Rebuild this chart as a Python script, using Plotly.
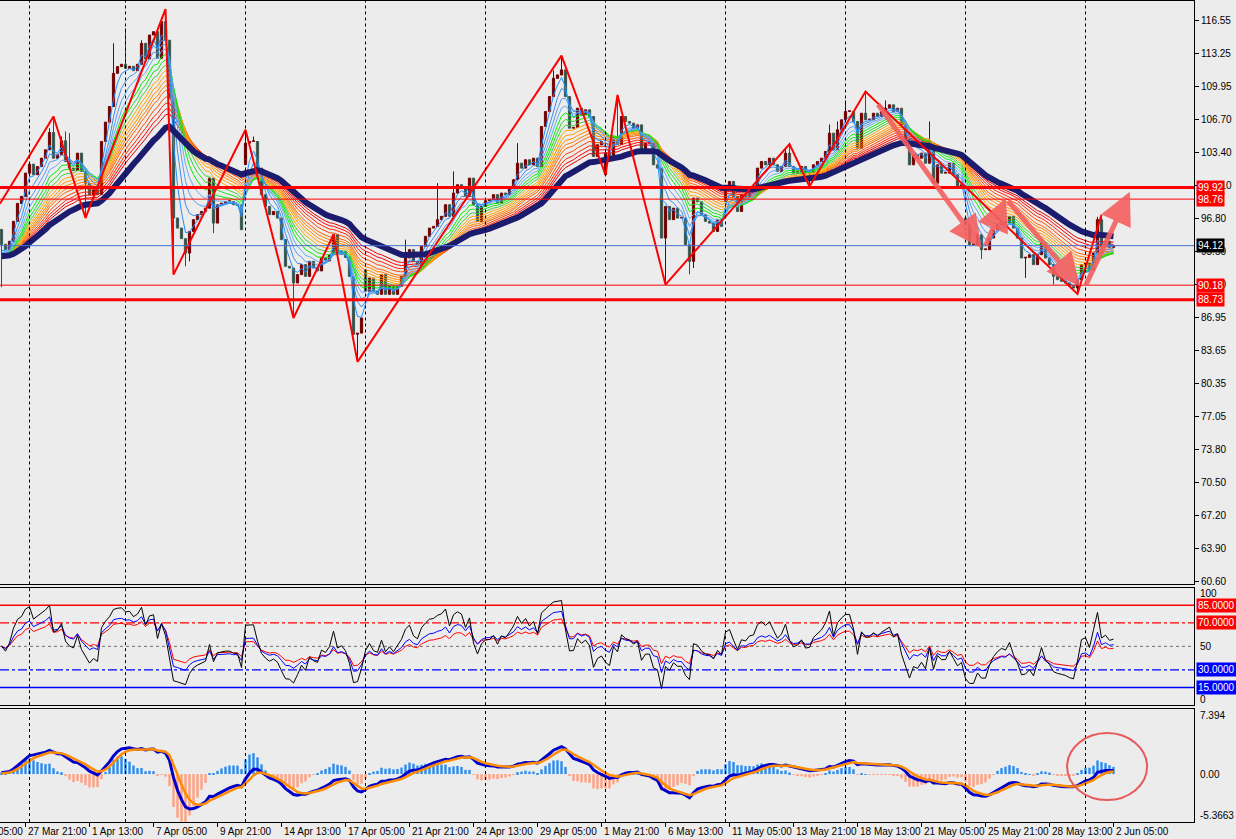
import numpy as np
import pandas as pd
import plotly.graph_objects as go

# ---------------- data (H4 bars) ----------------
close_prices = [
    94.25, 93.72, 94.55, 96.54, 98.33, 99.03, 101.35, 102.24, 101.19, 102.00,
    102.84, 103.67, 105.40, 102.84, 103.18, 104.57, 102.51, 101.85, 101.60, 103.34,
    101.52, 100.35, 99.20, 99.69, 99.23, 104.50, 106.43, 107.99, 111.30, 111.97,
    112.20, 111.80, 112.00, 111.57, 112.20, 114.29, 112.73, 115.12, 115.45, 112.80,
    116.45, 114.60, 108.80, 96.87, 95.87, 94.82, 93.38, 95.54, 96.71, 97.21,
    97.53, 97.86, 100.85, 96.37, 98.20, 98.36, 98.53, 98.53, 98.20, 98.13,
    95.71, 104.34, 104.50, 104.50, 101.85, 99.20, 98.03, 97.21, 97.53, 96.87,
    94.72, 92.06, 91.89, 90.40, 91.23, 92.23, 91.06, 92.56, 91.90, 91.60,
    92.89, 92.60, 93.20, 95.20, 93.25, 93.55, 92.95, 91.06, 85.29, 85.40,
    86.91, 89.57, 90.89, 89.57, 89.27, 91.23, 89.27, 90.07, 89.27, 90.07,
    91.06, 92.89, 93.72, 92.56, 92.23, 94.05, 95.05, 95.87, 96.04, 96.71,
    97.04, 98.20, 97.04, 99.36, 100.19, 100.02, 99.03, 100.85, 98.20, 96.54,
    98.03, 98.60, 98.70, 99.20, 98.36, 99.36, 99.20, 99.86, 100.69, 102.34,
    101.85, 102.68, 102.18, 102.84, 102.01, 106.00, 107.49, 108.98, 110.80, 111.14,
    111.64, 108.98, 105.83, 105.90, 107.82, 107.16, 107.66, 106.99, 103.01, 104.17,
    104.50, 103.34, 102.68, 105.00, 104.20, 106.99, 106.50, 106.33, 105.83, 106.16,
    103.67, 104.34, 104.34, 102.18, 101.85, 94.88, 98.03, 96.71, 97.86, 96.87,
    96.87, 94.22, 92.56, 98.86, 98.50, 97.21, 96.54, 96.37, 95.54, 96.71,
    96.04, 99.86, 100.52, 99.03, 97.53, 99.20, 99.03, 99.86, 100.02, 101.85,
    102.51, 102.18, 102.84, 102.18, 101.52, 102.01, 103.34, 102.01, 101.35, 101.52,
    102.01, 101.35, 101.40, 102.18, 102.51, 102.84, 103.51, 105.33, 103.67, 105.67,
    106.66, 107.49, 107.49, 106.50, 103.84, 107.32, 106.66, 106.66, 107.32, 106.99,
    107.49, 107.82, 108.16, 107.49, 107.82, 106.16, 104.50, 102.18, 103.18, 102.84,
    103.34, 102.34, 104.34, 100.35, 102.18, 101.35, 101.35, 102.34, 101.19, 99.86,
    100.19, 96.21, 94.22, 94.22, 95.21, 93.72, 93.72, 94.88, 95.71, 96.21,
    96.54, 96.37, 97.04, 95.87, 94.88, 92.89, 92.95, 93.22, 92.23, 93.22,
    94.38, 92.89, 92.23, 91.06, 90.73, 90.57, 90.40, 90.07, 89.90, 90.73,
    92.23, 92.39, 91.73, 93.38, 96.71, 94.05, 94.55, 93.95, 94.12,
]
first_open = 95.74
open_gaps = {61: 102.20, 91: 91.73, 151: 101.20, 181: 98.53, 241: 96.87}
high_marks = {12: 105.83, 13: 106.99, 15: 105.00, 16: 105.50, 17: 105.33, 28: 114.30,
              31: 115.80, 35: 114.60, 40: 116.90, 41: 117.71, 61: 105.67, 63: 105.00,
              83: 95.21, 101: 94.72, 109: 100.35, 113: 101.52, 129: 104.34, 138: 111.60,
              140: 113.06, 154: 109.15, 196: 103.80, 197: 104.24, 207: 106.20, 209: 106.50,
              211: 108.60, 216: 109.48, 221: 108.60, 232: 106.50, 274: 97.00, 275: 97.20}
low_marks = {0: 89.97, 21: 96.87, 43: 91.23, 46: 92.06, 47: 92.56, 53: 95.37, 73: 86.91,
             88: 85.20, 89: 82.53, 151: 101.19, 166: 90.24, 172: 91.26, 173: 91.89,
             202: 100.02, 245: 92.79, 256: 90.90, 263: 90.24, 269: 89.30}

# zigzag pivots (bar index, price)
zz_bars = [-0.4, 13, 21, 41, 43, 61, 73, 83, 89, 140, 151, 154, 166, 197, 202, 216, 269, 275]
zz_prices = [98.30, 106.99, 96.87, 117.71, 91.23, 105.67, 86.91, 95.21, 82.53, 113.06,
             101.19, 109.15, 90.24, 104.24, 100.02, 109.48, 89.30, 97.20]

# manual arrows (tail bar, tail price, head bar, head price)
arrow_tail_bars = [218.9, 245.9, 251.3, 270.9]
arrow_tail_prices = [108.34, 94.02, 98.74, 90.03]
arrow_head_bars = [245.0, 251.1, 269.6, 282.1]
arrow_head_prices = [93.86, 98.84, 90.10, 99.50]

# horizontal levels
level_prices = [99.92, 98.76, 90.18, 88.73]
level_widths = [3, 1, 1, 3]
current_price = 94.12

# axis ticks
price_ticks = [116.55, 113.25, 109.95, 106.70, 103.40, 100.10, 96.80, 93.50, 90.20,
               86.95, 83.65, 80.35, 77.05, 73.80, 70.50, 67.20, 63.90, 60.60]
date_label_bars = [6, 22, 38, 54, 70, 86, 102, 118, 134, 150, 166, 182, 198, 214, 230, 246, 262, 278]
date_labels = ["27 Mar 21:00", "1 Apr 13:00", "7 Apr 05:00", "9 Apr 21:00", "14 Apr 13:00",
               "17 Apr 05:00", "21 Apr 21:00", "24 Apr 13:00", "29 Apr 05:00", "1 May 21:00",
               "6 May 13:00", "11 May 05:00", "13 May 21:00", "18 May 13:00", "21 May 05:00",
               "25 May 21:00", "28 May 13:00", "2 Jun 05:00"]
week_start_bars = [7, 31, 61, 91, 121, 151, 181, 211, 241, 271]

# indicator settings
ma_seed = 93.0
ribbon_periods = [3, 5, 7, 9, 11, 13, 15, 17, 19, 21, 23, 25, 28, 31, 34, 37]
ribbon_colors = ["#1e90ff", "#3a8ee8", "#5a9cf0", "#6aaaf0",
                 "#00ee00", "#22dd22", "#44cc44",
                 "#ffa500", "#ff9c00", "#ff8c00", "#ff7f00",
                 "#ff6000", "#ff4500", "#ff2200", "#ff0000", "#e00000"]
navy_period = 45
rsi_periods = [7, 14, 21]
rsi_colors = ["#000000", "#0000ff", "#ff0000"]
macd_fast, macd_slow, macd_signal, osma_period, osma_gain = 8, 17, 4, 9, 1.7

# ---------------- derived series ----------------
N = len(close_prices)
bars = list(range(N))
opens = [first_open] + close_prices[:-1]
for b, v in open_gaps.items():
    opens[b] = v
highs = [max(o, c) for o, c in zip(opens, close_prices)]
lows = [min(o, c) for o, c in zip(opens, close_prices)]
for b, v in high_marks.items():
    highs[b] = max(highs[b], v)
for b, v in low_marks.items():
    lows[b] = min(lows[b], v)


def ema(values, period, seed):
    a = 2.0 / (period + 1)
    out, prev = [], seed
    for v in values:
        prev = prev + a * (v - prev)
        out.append(prev)
    return out


def rsi(values, period):
    ag, al = 0.5, 0.5
    out = [50.0]
    for i in range(1, len(values)):
        d = values[i] - values[i - 1]
        ag = (ag * (period - 1) + max(d, 0)) / period
        al = (al * (period - 1) + max(-d, 0)) / period
        out.append(100 - 100 / (1 + ag / al) if al > 0 else 100)
    return out


fast = ema(close_prices, macd_fast, ma_seed)
slow = ema(close_prices, macd_slow, ma_seed)
macd = [f - s for f, s in zip(fast, slow)]
signal = ema(macd, macd_signal, 0.0)
osma = ema(macd, osma_period, 0.0)
hist = [osma_gain * (m - o) for m, o in zip(macd, osma)]

BG = "#ececec"
fig = go.Figure()

# candles: wicks
bull = [c >= o for o, c in zip(opens, close_prices)]
for is_bull, col in [(True, "#7a0000"), (False, "#34504a")]:
    wx, wy = [], []
    for i in bars:
        if bull[i] == is_bull:
            wx += [i, i, None]
            wy += [lows[i], highs[i], None]
    fig.add_trace(go.Scatter(x=wx, y=wy, mode="lines", line=dict(color=col, width=1),
                             xaxis="x", yaxis="y", hoverinfo="skip"))
# candles: bodies
fig.add_trace(go.Bar(
    x=bars,
    base=[min(o, c) for o, c in zip(opens, close_prices)],
    y=[max(abs(c - o), 0.08) for o, c in zip(opens, close_prices)],
    width=0.55,
    marker=dict(color=["#b40000" if b else "#c4ecce" for b in bull],
                line=dict(color=["#6e0000" if b else "#34504a" for b in bull], width=1)),
    xaxis="x", yaxis="y", hoverinfo="skip"))

# ribbon MAs (slow first so fast ones lie on top)
for p, col in reversed(list(zip(ribbon_periods, ribbon_colors))):
    fig.add_trace(go.Scatter(x=bars, y=ema(close_prices, p, ma_seed), mode="lines",
                             line=dict(color=col, width=1), xaxis="x", yaxis="y", hoverinfo="skip"))
fig.add_trace(go.Scatter(x=bars, y=ema(close_prices, navy_period, ma_seed), mode="lines",
                         line=dict(color="#1c1c6e", width=6), xaxis="x", yaxis="y", hoverinfo="skip"))
# zigzag
fig.add_trace(go.Scatter(x=zz_bars, y=zz_prices, mode="lines", line=dict(color="#ff0000", width=2),
                         xaxis="x", yaxis="y", hoverinfo="skip"))

# RSI panel
for p, col in reversed(list(zip(rsi_periods, rsi_colors))):
    fig.add_trace(go.Scatter(x=bars, y=rsi(close_prices, p), mode="lines",
                             line=dict(color=col, width=1), xaxis="x2", yaxis="y2", hoverinfo="skip"))

# MACD panel
fig.add_trace(go.Bar(x=bars, y=hist, width=0.6,
                     marker=dict(color=["#2b8cf0" if h >= 0 else "#ffa080" for h in hist], line=dict(width=0)),
                     xaxis="x3", yaxis="y3", hoverinfo="skip"))
fig.add_trace(go.Scatter(x=bars, y=macd, mode="lines", line=dict(color="#0000cc", width=3),
                         xaxis="x3", yaxis="y3", hoverinfo="skip"))
fig.add_trace(go.Scatter(x=bars, y=signal, mode="lines", line=dict(color="#ff8c00", width=2.5),
                         xaxis="x3", yaxis="y3", hoverinfo="skip"))

shapes = []
# weekly dashed grid
for b in week_start_bars:
    for xa, ya in [("x", "y domain"), ("x2", "y2 domain"), ("x3", "y3 domain")]:
        shapes.append(dict(type="line", xref=xa, yref=ya, x0=b, x1=b, y0=0, y1=1,
                           line=dict(color="#000000", width=1, dash="3px,3px"), layer="above"))
# horizontal price levels
for p, w in zip(level_prices, level_widths):
    shapes.append(dict(type="line", xref="x domain", yref="y", x0=0, x1=1, y0=p, y1=p,
                       line=dict(color="#ff0000", width=w)))
shapes.append(dict(type="line", xref="x domain", yref="y", x0=0, x1=1, y0=current_price, y1=current_price,
                   line=dict(color="#4a6fd0", width=1)))
# RSI levels
for lv, col, dash, w in [(85, "#ff0000", "solid", 1.5), (70, "#ff0000", "dashdot", 1.2),
                          (50, "#707070", "dot", 1), (30, "#0000ff", "dashdot", 1.2),
                          (15, "#0000ff", "solid", 1.5)]:
    shapes.append(dict(type="line", xref="x2 domain", yref="y2", x0=0, x1=1, y0=lv, y1=lv,
                       line=dict(color=col, width=w, dash=dash), layer="below"))
# highlight circle
shapes.append(dict(type="circle", xref="x3", yref="y3", x0=266.4, x1=286.4, y0=-2.96, y1=4.66,
                   line=dict(color="#e85a5a", width=2)))
# x tick marks
for b in date_label_bars:
    shapes.append(dict(type="line", xref="x", yref="paper", x0=b, x1=b, y0=0, y1=-0.006,
                       line=dict(color="#000000", width=1)))

FONT = "Liberation Sans"
ann = []
for b, t in zip(date_label_bars, date_labels):
    ann.append(dict(x=b, xref="x", y=0, yref="paper", yshift=-2, text=t, showarrow=False,
                    xanchor="left", yanchor="top", xshift=0, font=dict(size=10, color="#000", family=FONT)))
ann.append(dict(x=-38.5 / 1194, xref="paper", y=0, yref="paper", yshift=-2, text="25 Mar 05:00",
                showarrow=False, xanchor="left", yanchor="top", font=dict(size=10, color="#000", family=FONT)))
for p in level_prices:
    ann.append(dict(x=1, xref="paper", y=p, yref="y", text=f"{p:.2f}", showarrow=False, xanchor="left",
                    xshift=2, bgcolor="#ff0000", borderpad=1, font=dict(size=10, color="#ffffff", family=FONT)))
ann.append(dict(x=1, xref="paper", y=current_price, yref="y", text=f"{current_price:.2f}", showarrow=False,
                xanchor="left", xshift=2, bgcolor="#000000", borderpad=1,
                font=dict(size=10, color="#ffffff", family=FONT)))
for lv, col in [(85, "#ff0000"), (70, "#ff0000"), (30, "#0000ff"), (15, "#0000ff")]:
    ann.append(dict(x=1, xref="paper", y=lv, yref="y2", text=f"{lv:.4f}", showarrow=False, xanchor="left",
                    xshift=2, bgcolor=col, borderpad=1, font=dict(size=10, color="#ffffff", family=FONT)))
for v, t, sh in [(100, "100", -6), (50, "50", 0), (0, "0", 6)]:
    ann.append(dict(x=1, xref="paper", y=v, yref="y2", yshift=sh, text=t, showarrow=False, xanchor="left",
                    xshift=4, font=dict(size=10, color="#000", family=FONT)))
for v, t, sh in [(7.394, "7.394", -6), (0, "0.00", 0), (-5.3663, "-5.3663", 6)]:
    ann.append(dict(x=1, xref="paper", y=v, yref="y3", yshift=sh, text=t, showarrow=False, xanchor="left",
                    xshift=4, font=dict(size=10, color="#000", family=FONT)))
for tb, tp, hb, hp in zip(arrow_tail_bars, arrow_tail_prices, arrow_head_bars, arrow_head_prices):
    ann.append(dict(x=hb, y=hp, xref="x", yref="y", ax=tb, ay=tp, axref="x", ayref="y", text="",
                    showarrow=True, arrowhead=2, arrowsize=1.3, arrowwidth=5, arrowcolor="rgba(245,95,95,0.9)"))

xr = [-0.375, 298.125]
xcommon = dict(range=xr, showgrid=False, zeroline=False, showticklabels=False, ticks="",
               showline=True, mirror=True, linecolor="#000000", linewidth=1)
ycommon = dict(showgrid=False, zeroline=False, side="right", showline=True, linecolor="#000000",
               linewidth=1)
fig.update_layout(
    width=1236, height=839,
    margin=dict(l=0, r=42, t=1, b=17),
    paper_bgcolor=BG, plot_bgcolor=BG,
    showlegend=False, barmode="overlay", hovermode=False,
    font=dict(family=FONT, size=10, color="#000000"),
    xaxis=dict(**xcommon, anchor="y"),
    xaxis2=dict(**xcommon, anchor="y2", matches="x"),
    xaxis3=dict(**xcommon, anchor="y3", matches="x"),
    yaxis=dict(**ycommon, domain=[0.2893, 1.0], range=[60.34, 118.51], anchor="x",
               tickvals=price_ticks, ticktext=[f"{v:.2f}" for v in price_ticks],
               ticks="outside", ticklen=4, tickcolor="#000000", tickfont=dict(size=10, family=FONT)),
    yaxis2=dict(**ycommon, domain=[0.1423, 0.2856], range=[0, 100], anchor="x2",
                showticklabels=False, ticks=""),
    yaxis3=dict(**ycommon, domain=[0.0, 0.1376], range=[-5.45, 7.394], anchor="x3",
                showticklabels=False, ticks=""),
    shapes=shapes, annotations=ann,
)
fig.write_html("out.html")
